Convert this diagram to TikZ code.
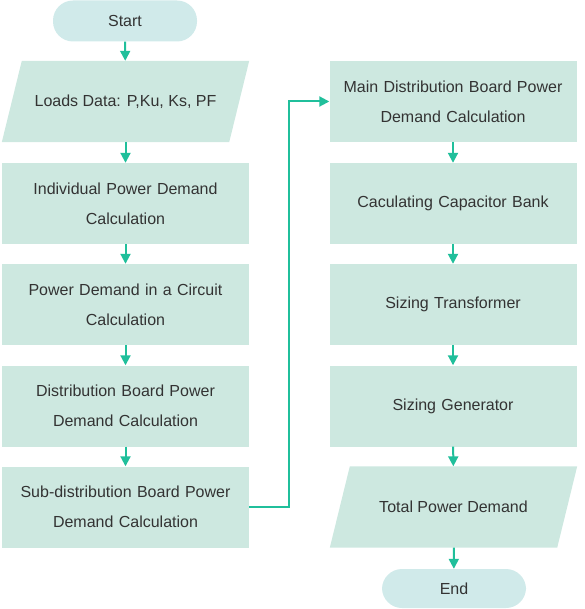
\documentclass[tikz,border=0pt]{standalone}
\usepackage{fontspec}
\setmainfont{Liberation Sans}
\usetikzlibrary{arrows.meta}
\usetikzlibrary{calc}
\usetikzlibrary{backgrounds}
\usepackage{xcolor}
\definecolor{boxfill}{HTML}{CDE8E0}
\definecolor{termfill}{HTML}{D0EAEA}
\definecolor{flowline}{HTML}{20BF9B}
\definecolor{txt}{HTML}{333333}

\tikzset{
  procbox/.style={rectangle, fill=boxfill, minimum width=247pt, minimum height=81pt,
    inner sep=0pt, text width=240pt, align=center, text=txt,
    font=\fontsize{16pt}{30pt}\selectfont},
  databox/.style={rectangle, minimum width=227pt, minimum height=81pt,
    inner sep=0pt, text=txt, font=\fontsize{16pt}{30pt}\selectfont},
  termbox/.style={rectangle, rounded corners=20pt, fill=termfill, minimum width=144pt,
    minimum height=41pt, inner sep=0pt, text=txt, font=\fontsize{16pt}{30pt}\selectfont},
  flow/.style={draw=flowline, line width=2pt, -{Triangle[width=10pt,length=10pt]}}
}
% parallelogram fill behind a databox node
\newcommand{\slantfill}[1]{%
  \begin{pgfonlayer}{background}
    \fill[boxfill] ($(#1.south west)+(-10,0)$) -- ($(#1.north west)+(10,0)$)
      -- ($(#1.north east)+(10,0)$) -- ($(#1.south east)+(-10,0)$) -- cycle;
  \end{pgfonlayer}}

\begin{document}
\begin{tikzpicture}[x=1pt,y=-1pt]
      \useasboundingbox (0,0) rectangle (584,609);
      % left column
      \node[termbox] (start) at (125,21) {Start};
      \node[databox] (loads) at (125.5,101.5) {Loads Data: P,Ku, Ks, PF};
      \slantfill{loads}
      \node[procbox] (indiv) at (125.5,203.5) {Individual Power Demand\\Calculation};
      \node[procbox] (circ) at (125.5,304.5) {Power Demand in a Circuit\\Calculation};
      \node[procbox] (db) at (125.5,406) {Distribution Board Power\\Demand Calculation};
      \node[procbox] (sdb) at (125.5,507) {Sub-distribution Board Power\\Demand Calculation};
      % right column
      \node[procbox] (mdb) at (453,101.5) {Main Distribution Board Power\\Demand Calculation};
      \node[procbox] (cap) at (453,203.5) {Caculating Capacitor Bank};
      \node[procbox] (trafo) at (453,304.5) {Sizing Transformer};
      \node[procbox] (gen) at (453,406) {Sizing Generator};
      \node[databox] (total) at (453.5,507) {Total Power Demand};
      \slantfill{total}
      \node[termbox, minimum height=39pt] (end) at (454,588.5) {End};
      % connectors
      \draw[flow] (start) -- (loads);
      \draw[flow] (loads) -- (indiv);
      \draw[flow] (indiv) -- (circ);
      \draw[flow] (circ) -- (db);
      \draw[flow] (db) -- (sdb);
      \draw[flow] (sdb.east) -- (289,507) -- (289,101.5) -- (mdb.west);
      \draw[flow] (mdb) -- (cap);
      \draw[flow] (cap) -- (trafo);
      \draw[flow] (trafo) -- (gen);
      \draw[flow] (gen) -- (total);
      \draw[flow] (total) -- (end);
    \end{tikzpicture}
\end{document}
